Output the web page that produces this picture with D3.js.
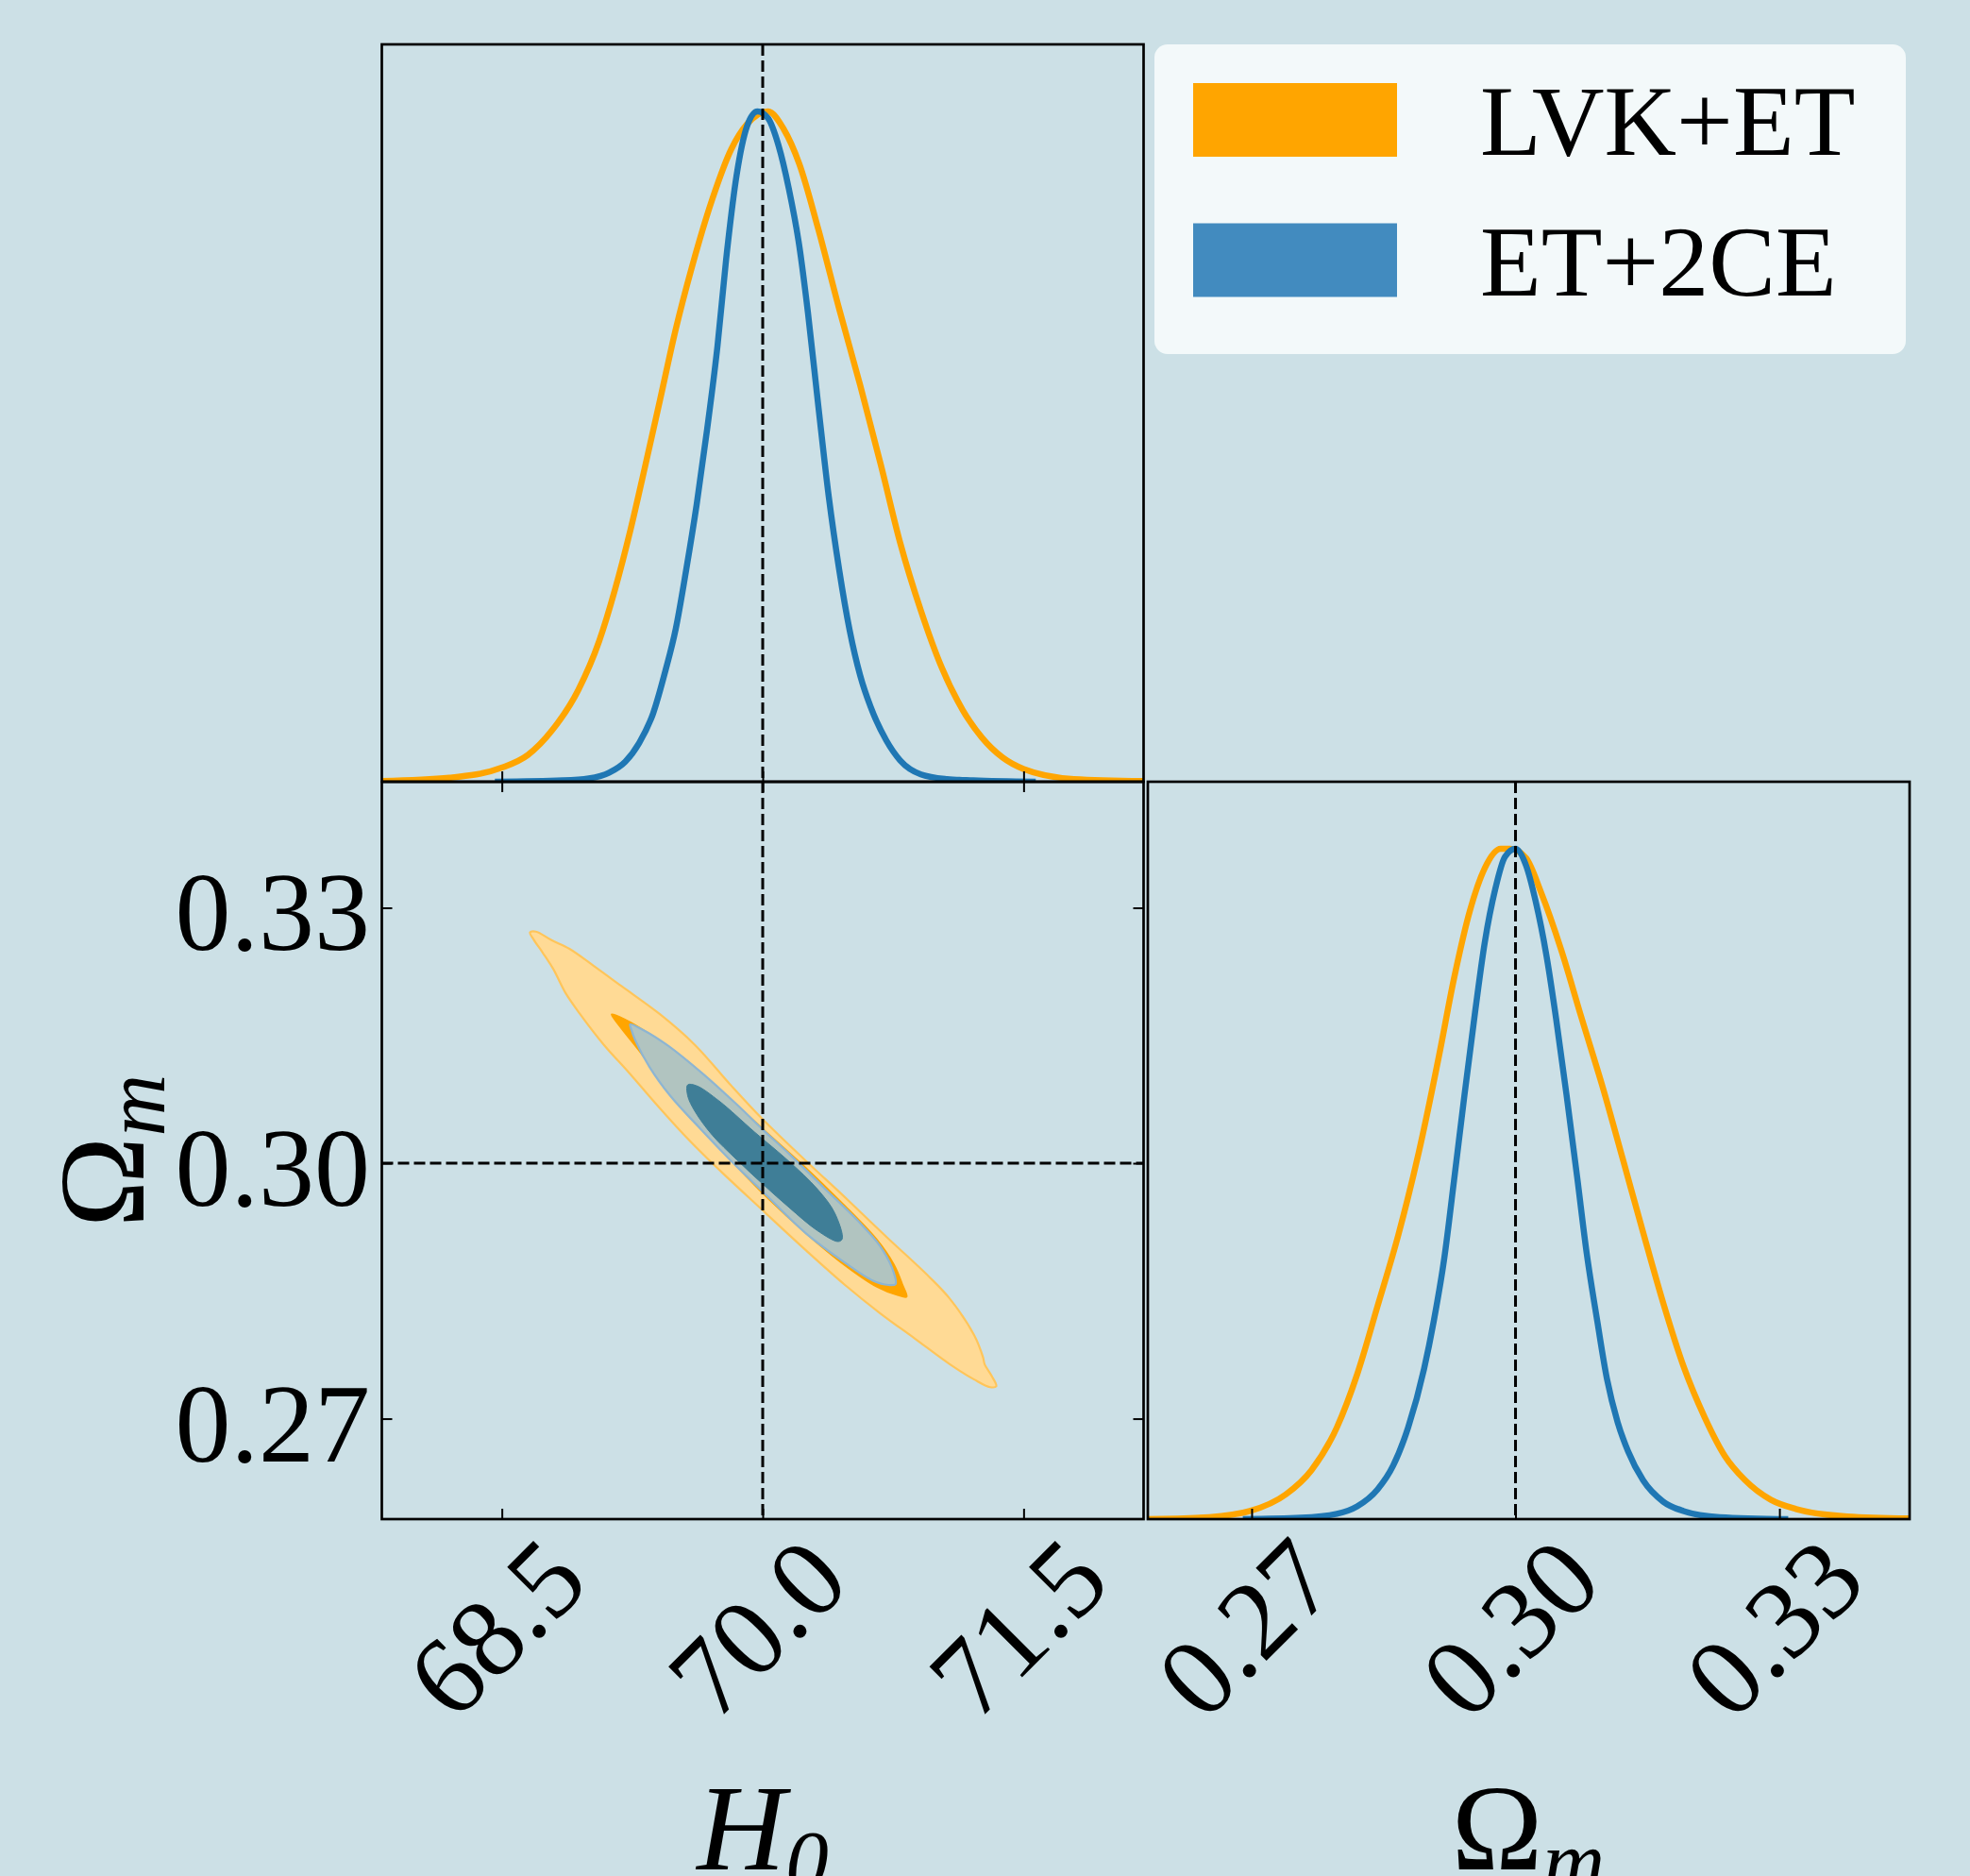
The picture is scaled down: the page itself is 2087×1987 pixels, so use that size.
<!DOCTYPE html>
<html>
<head>
<meta charset="utf-8">
<script src="https://cdn.jsdelivr.net/npm/d3@7"></script>
<style>
  html, body { margin: 0; padding: 0; background: #cce0e6; }
  svg { display: block; }
  text { font-family: "Liberation Serif", "Times New Roman", serif; fill: #000; }
</style>
</head>
<body>
<div id="corner"></div>
<script>
// axis limits and ticks of the two parameters
var h0Range = [67.81, 72.19]
var omRange = [0.2582, 0.3448]
var h0Ticks = [68.5, 70.0, 71.5]
var omTicks = [0.27, 0.30, 0.33]
var h0True = 70.0
var omTrue = 0.30

// legend names
var seriesNames = ["LVK+ET", "ET+2CE"]

// 1D marginal of H0, [H0, density] with peak scaled to 1
var h0_lvk = [[67.81,0.001],[68.20,0.006],[68.50,0.021],[68.65,0.040],[68.79,0.077],[68.94,0.137],[69.06,0.210],[69.15,0.286],[69.24,0.376],[69.32,0.466],[69.41,0.570],[69.50,0.675],[69.59,0.765],[69.71,0.869],[69.82,0.944],[69.91,0.981],[70.03,1.000],[70.12,0.974],[70.21,0.922],[70.32,0.824],[70.44,0.705],[70.56,0.592],[70.68,0.472],[70.79,0.357],[70.91,0.255],[71.03,0.170],[71.15,0.107],[71.26,0.066],[71.38,0.036],[71.50,0.019],[71.79,0.004],[72.19,0.001]]
var h0_et = [[68.46,0.000],[68.85,0.002],[69.00,0.005],[69.12,0.014],[69.21,0.030],[69.29,0.058],[69.37,0.102],[69.44,0.165],[69.50,0.228],[69.56,0.316],[69.62,0.413],[69.68,0.525],[69.74,0.650],[69.79,0.780],[69.85,0.905],[69.91,0.978],[69.97,1.000],[70.03,0.990],[70.09,0.950],[70.15,0.885],[70.21,0.800],[70.26,0.700],[70.32,0.560],[70.38,0.425],[70.44,0.316],[70.50,0.226],[70.56,0.159],[70.62,0.112],[70.71,0.062],[70.79,0.032],[70.91,0.011],[71.06,0.004],[71.21,0.002],[71.57,0.000]]

// 1D marginal of Omega_m
var om_lvk = [[0.2582,0.000],[0.2652,0.003],[0.2698,0.012],[0.2739,0.037],[0.2768,0.073],[0.2797,0.137],[0.2820,0.216],[0.2843,0.317],[0.2867,0.425],[0.2890,0.547],[0.2913,0.691],[0.2930,0.806],[0.2948,0.907],[0.2965,0.971],[0.2983,1.000],[0.2994,1.000],[0.3012,0.986],[0.3029,0.935],[0.3052,0.849],[0.3075,0.748],[0.3099,0.645],[0.3122,0.537],[0.3145,0.428],[0.3168,0.322],[0.3191,0.228],[0.3215,0.152],[0.3238,0.094],[0.3261,0.058],[0.3290,0.029],[0.3319,0.015],[0.3377,0.004],[0.3447,0.001]]
var om_et = [[0.2690,0.000],[0.2756,0.002],[0.2797,0.008],[0.2820,0.019],[0.2843,0.044],[0.2861,0.080],[0.2878,0.137],[0.2896,0.224],[0.2907,0.295],[0.2919,0.389],[0.2930,0.504],[0.2942,0.633],[0.2954,0.756],[0.2965,0.860],[0.2977,0.940],[0.2988,0.988],[0.3000,1.000],[0.3012,0.975],[0.3023,0.921],[0.3035,0.842],[0.3046,0.748],[0.3058,0.633],[0.3070,0.511],[0.3081,0.396],[0.3093,0.295],[0.3104,0.209],[0.3116,0.145],[0.3128,0.101],[0.3145,0.058],[0.3168,0.026],[0.3191,0.012],[0.3232,0.003],[0.3310,0.000]]

// 2D credible regions, outline points [H0, Omega_m]
var lvk_95 = [[68.662,0.3271],[68.696,0.3272],[68.786,0.3262],[68.887,0.3252],[69.027,0.3232],[69.188,0.3208],[69.409,0.3175],[69.610,0.3139],[69.811,0.3093],[70.003,0.3051],[70.252,0.3002],[70.473,0.2960],[70.714,0.2913],[70.955,0.2867],[71.075,0.2841],[71.216,0.2798],[71.267,0.2772],[71.276,0.2764],[71.317,0.2750],[71.343,0.2738],[71.307,0.2737],[71.216,0.2746],[71.075,0.2764],[70.875,0.2794],[70.674,0.2824],[70.473,0.2857],[70.252,0.2897],[70.003,0.2944],[69.710,0.3000],[69.549,0.3033],[69.389,0.3069],[69.228,0.3107],[69.087,0.3139],[68.947,0.3176],[68.866,0.3200],[68.796,0.3228],[68.736,0.3247],[68.682,0.3263]]
var lvk_68 = [[69.131,0.3175],[69.208,0.3169],[69.349,0.3152],[69.549,0.3123],[69.750,0.3087],[70.003,0.3040],[70.252,0.2994],[70.453,0.2954],[70.654,0.2911],[70.755,0.2881],[70.805,0.2857],[70.828,0.2843],[70.775,0.2845],[70.654,0.2855],[70.453,0.2883],[70.252,0.2917],[70.003,0.2964],[69.750,0.3018],[69.549,0.3061],[69.429,0.3093],[69.308,0.3127],[69.188,0.3158],[69.137,0.3172]]
var et_95 = [[69.238,0.3163],[69.308,0.3157],[69.449,0.3139],[69.650,0.3106],[69.851,0.3069],[70.003,0.3039],[70.152,0.3011],[70.353,0.2971],[70.554,0.2931],[70.674,0.2903],[70.744,0.2877],[70.764,0.2858],[70.724,0.2857],[70.634,0.2862],[70.453,0.2886],[70.252,0.2917],[70.003,0.2966],[69.831,0.3000],[69.630,0.3043],[69.469,0.3079],[69.349,0.3113],[69.268,0.3144],[69.243,0.3158]]
var et_68 = [[69.569,0.3092],[69.619,0.3091],[69.750,0.3073],[69.951,0.3037],[70.152,0.3002],[70.313,0.2970],[70.413,0.2942],[70.457,0.2911],[70.433,0.2908],[70.313,0.2921],[70.152,0.2948],[70.003,0.2975],[69.851,0.3004],[69.710,0.3033],[69.610,0.3061],[69.569,0.3079]]

// colours
var orange = "#ffa500"
var blue = "#1f77b4"

// figure layout (pixels)
var widthSvg = 2087
var heightSvg = 1987
var col1 = 404.5, col2 = 1216, panelW = 807
var row1 = 47, row2 = 828, panelH = 781
var tickLen = 11
var tickFont = 118
var labelFont = 130
var curveWidth = 6.5

var svg = d3.select("#corner")
  .append("svg")
  .attr("width", widthSvg)
  .attr("height", heightSvg);

svg.append("rect")
  .attr("width", widthSvg)
  .attr("height", heightSvg)
  .attr("fill", "#cce0e6");

// scales
var xH0 = d3.scaleLinear().domain(h0Range).range([col1, col1 + panelW])
var xOm = d3.scaleLinear().domain(omRange).range([col2, col2 + panelW])
var yOm = d3.scaleLinear().domain(omRange).range([row2 + panelH, row2])
var yTop = d3.scaleLinear().domain([0, 1.1]).range([row2, row1])
var yBR = d3.scaleLinear().domain([0, 1.1]).range([row2 + panelH, row2])

// clip each panel
var defs = svg.append("defs")
function clip(id, x, y) {
  defs.append("clipPath").attr("id", id)
    .append("rect").attr("x", x).attr("y", y).attr("width", panelW).attr("height", panelH)
  return "url(#" + id + ")"
}
var clipTL = clip("cTL", col1, row1)
var clipBL = clip("cBL", col1, row2)
var clipBR = clip("cBR", col2, row2)

function dashed(g, x1, y1, x2, y2) {
  g.append("line")
    .attr("x1", x1).attr("y1", y1).attr("x2", x2).attr("y2", y2)
    .attr("stroke", "#000")
    .attr("stroke-width", 3)
    .attr("stroke-dasharray", "12,5");
}

// ---------- top left: H0 marginal ----------
var gTL = svg.append("g").attr("clip-path", clipTL)
var lineTL = d3.line()
  .x(function(d) { return xH0(d[0]) })
  .y(function(d) { return yTop(d[1]) })
  .curve(d3.curveMonotoneX)

gTL.selectAll("path.kde")
  .data([[h0_lvk, orange], [h0_et, blue]])
  .enter()
  .append("path")
  .attr("class", "kde")
  .attr("d", function(d) { return lineTL(d[0]) })
  .attr("fill", "none")
  .attr("stroke", function(d) { return d[1] })
  .attr("stroke-width", curveWidth)
  .attr("stroke-linejoin", "round");
dashed(gTL, xH0(h0True), row1, xH0(h0True), row2)

// ---------- bottom right: Omega_m marginal ----------
var gBR = svg.append("g").attr("clip-path", clipBR)
var lineBR = d3.line()
  .x(function(d) { return xOm(d[0]) })
  .y(function(d) { return yBR(d[1]) })
  .curve(d3.curveMonotoneX)

gBR.selectAll("path.kde")
  .data([[om_lvk, orange], [om_et, blue]])
  .enter()
  .append("path")
  .attr("class", "kde")
  .attr("d", function(d) { return lineBR(d[0]) })
  .attr("fill", "none")
  .attr("stroke", function(d) { return d[1] })
  .attr("stroke-width", curveWidth)
  .attr("stroke-linejoin", "round");
dashed(gBR, xOm(omTrue), row2, xOm(omTrue), row2 + panelH)

// ---------- bottom left: 2D contours ----------
var gBL = svg.append("g").attr("clip-path", clipBL)
var contour = d3.line()
  .x(function(d) { return xH0(d[0]) })
  .y(function(d) { return yOm(d[1]) })
  .curve(d3.curveCatmullRomClosed.alpha(0.5))

var regions = [
  { pts: lvk_95, fill: "#ffda95", stroke: "#ffc55a", sw: 2.2 },
  { pts: lvk_68, fill: orange, stroke: orange, sw: 1.5 },
  { pts: et_95, fill: "#b1c4c0", stroke: "#8db5d3", sw: 2.2 },
  { pts: et_68, fill: "#3f7e97", stroke: "#3f7e97", sw: 1 }
]
gBL.selectAll("path.region")
  .data(regions)
  .enter()
  .append("path")
  .attr("class", "region")
  .attr("d", function(d) { return contour(d.pts) })
  .attr("fill", function(d) { return d.fill })
  .attr("stroke", function(d) { return d.stroke })
  .attr("stroke-width", function(d) { return d.sw });
dashed(gBL, xH0(h0True), row2, xH0(h0True), row2 + panelH)
dashed(gBL, col1, yOm(omTrue), col1 + panelW, yOm(omTrue))

// ---------- ticks (pointing inward) ----------
function noDomain(g) {
  g.select(".domain").remove()
  g.selectAll(".tick line").attr("stroke", "#000").attr("stroke-width", 2)
}
svg.append("g").attr("transform", "translate(0," + row2 + ")")
  .call(d3.axisBottom(xH0).tickValues(h0Ticks).tickSize(-tickLen).tickFormat(""))
  .call(noDomain)
svg.append("g").attr("transform", "translate(0," + row2 + ")")
  .call(d3.axisTop(xH0).tickValues(h0Ticks).tickSize(-tickLen).tickFormat(""))
  .call(noDomain)
svg.append("g").attr("transform", "translate(0," + (row2 + panelH) + ")")
  .call(d3.axisBottom(xH0).tickValues(h0Ticks).tickSize(-tickLen).tickFormat(""))
  .call(noDomain)
svg.append("g").attr("transform", "translate(" + col1 + ",0)")
  .call(d3.axisLeft(yOm).tickValues(omTicks).tickSize(-tickLen).tickFormat(""))
  .call(noDomain)
svg.append("g").attr("transform", "translate(" + (col1 + panelW) + ",0)")
  .call(d3.axisRight(yOm).tickValues(omTicks).tickSize(-tickLen).tickFormat(""))
  .call(noDomain)
svg.append("g").attr("transform", "translate(0," + (row2 + panelH) + ")")
  .call(d3.axisBottom(xOm).tickValues(omTicks).tickSize(-tickLen).tickFormat(""))
  .call(noDomain)

// panel frames
svg.selectAll("rect.frame")
  .data([[col1, row1], [col1, row2], [col2, row2]])
  .enter()
  .append("rect")
  .attr("class", "frame")
  .attr("x", function(d) { return d[0] })
  .attr("y", function(d) { return d[1] })
  .attr("width", panelW)
  .attr("height", panelH)
  .attr("fill", "none")
  .attr("stroke", "#000")
  .attr("stroke-width", 2.7);

// ---------- tick labels ----------
var xLabelY = 1724
svg.selectAll("text.h0tick")
  .data(h0Ticks)
  .enter()
  .append("text")
  .attr("class", "h0tick")
  .attr("transform", function(d) { return "translate(" + (xH0(d) - 6) + "," + xLabelY + ") rotate(-45)" })
  .attr("text-anchor", "middle")
  .attr("dy", "0.34em")
  .style("font-size", tickFont + "px")
  .text(d3.format(".1f"));

svg.selectAll("text.omtick")
  .data(omTicks)
  .enter()
  .append("text")
  .attr("class", "omtick")
  .attr("transform", function(d) { return "translate(" + (xOm(d) - 6) + "," + xLabelY + ") rotate(-45)" })
  .attr("text-anchor", "middle")
  .attr("dy", "0.34em")
  .style("font-size", tickFont + "px")
  .text(d3.format(".2f"));

svg.selectAll("text.omytick")
  .data(omTicks)
  .enter()
  .append("text")
  .attr("class", "omytick")
  .attr("x", 392)
  .attr("y", function(d) { return yOm(d) + 45 })
  .attr("text-anchor", "end")
  .style("font-size", tickFont + "px")
  .text(d3.format(".2f"));

// ---------- axis labels ----------
function mathLabel(g, main, mainItalic, sub) {
  var t = g.append("text")
    .attr("text-anchor", "middle")
    .style("font-size", labelFont + "px")
  t.append("tspan")
    .style("font-style", mainItalic ? "italic" : "normal")
    .text(main)
  t.append("tspan")
    .style("font-style", "italic")
    .style("font-size", (labelFont * 0.7) + "px")
    .attr("dy", 22)
    .text(sub)
  return t
}
mathLabel(svg.append("g").attr("transform", "translate(808,1980)"), "H", true, "0")
mathLabel(svg.append("g").attr("transform", "translate(1619,1980)"), "\u03A9", false, "m")
mathLabel(svg.append("g").attr("transform", "translate(152,1219) rotate(-90)"), "\u03A9", false, "m")

// ---------- legend ----------
var legend = svg.append("g")
legend.append("rect")
  .attr("x", 1223).attr("y", 47)
  .attr("width", 796).attr("height", 328)
  .attr("rx", 14)
  .attr("fill", "#f3f9fa");

var legendColors = [orange, "#428bbf"]
var legendRows = legend.selectAll("g.entry")
  .data(seriesNames)
  .enter()
  .append("g")
  .attr("class", "entry")
  .attr("transform", function(d, i) { return "translate(0," + (i * 148.5) + ")" });

legendRows.append("rect")
  .attr("x", 1264).attr("y", 88)
  .attr("width", 216).attr("height", 78)
  .attr("fill", function(d, i) { return legendColors[i] });

legendRows.append("text")
  .attr("x", 1568).attr("y", 164)
  .style("font-size", "106px")
  .text(function(d) { return d });
</script>
</body>
</html>
